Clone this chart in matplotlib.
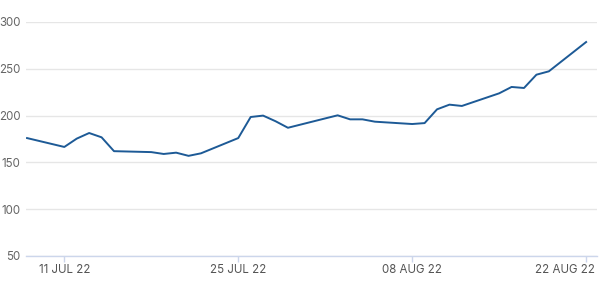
import numpy as np
import pandas as pd
import matplotlib
matplotlib.use("Agg")
import matplotlib.pyplot as plt
import matplotlib.transforms as mtransforms

plt.rcParams['font.family'] = ['Inter', 'DejaVu Sans']

# Data
dates = pd.to_datetime([
    "2022-07-08", "2022-07-11", "2022-07-12", "2022-07-13", "2022-07-14", "2022-07-15",
    "2022-07-18", "2022-07-19", "2022-07-20", "2022-07-21", "2022-07-22",
    "2022-07-25", "2022-07-26", "2022-07-27", "2022-07-28", "2022-07-29",
    "2022-08-01", "2022-08-02", "2022-08-03", "2022-08-04", "2022-08-05",
    "2022-08-08", "2022-08-09", "2022-08-10", "2022-08-11", "2022-08-12",
    "2022-08-15", "2022-08-16", "2022-08-17", "2022-08-18", "2022-08-19",
    "2022-08-22",
])
values = [
    176, 166.5, 175.4, 181.4, 176.8, 162,
    161, 159, 160.4, 157, 159.7,
    176, 198.5, 200, 194, 187,
    197, 200.3, 196, 196, 193.5,
    191, 192, 206.7, 211.7, 210.3,
    223.8, 230.6, 229.5, 243.7, 247.3,
    278.6,
]
tick_dates = pd.to_datetime(["2022-07-11", "2022-07-25", "2022-08-08", "2022-08-22"])
tick_labels = ["11 JUL 22", "25 JUL 22", "08 AUG 22", "22 AUG 22"]
y_ticks = [50, 100, 150, 200, 250, 300]

fig = plt.figure(figsize=(6, 2.87), dpi=100)
ax = fig.add_axes([26 / 600, 1 - 256 / 287, 571 / 600, 234 / 287])

ax.plot(dates, values, color='#1d5a96', linewidth=1.4, solid_joinstyle='round')

ax.set_ylim(50, 300)
ax.set_xlim(pd.Timestamp("2022-07-08") - pd.Timedelta(hours=2),
            pd.Timestamp("2022-08-22") + pd.Timedelta(hours=21))
ax.set_yticks(y_ticks)
ax.set_xticks(tick_dates)
ax.set_xticklabels(tick_labels)

ax.grid(axis='y', color='#e6e6e6', linewidth=1)
ax.set_axisbelow(True)
for s in ['top', 'right', 'left']:
    ax.spines[s].set_visible(False)
ax.spines['bottom'].set_color('#ccd6eb')
ax.spines['bottom'].set_linewidth(1)

ax.tick_params(axis='y', length=0, pad=4, labelsize=8.3, labelcolor='#666666')
ax.tick_params(axis='x', length=4, width=1, color='#ccd6eb', pad=2,
               labelsize=8.3, labelcolor='#555555')

# keep the last date label inside the figure, like the original
last = ax.get_xticklabels()[-1]
last.set_horizontalalignment('right')
last.set_transform(last.get_transform() +
                   mtransforms.ScaledTranslation(9 / 100, 0, fig.dpi_scale_trans))

fig.savefig("out.png", dpi=100)
